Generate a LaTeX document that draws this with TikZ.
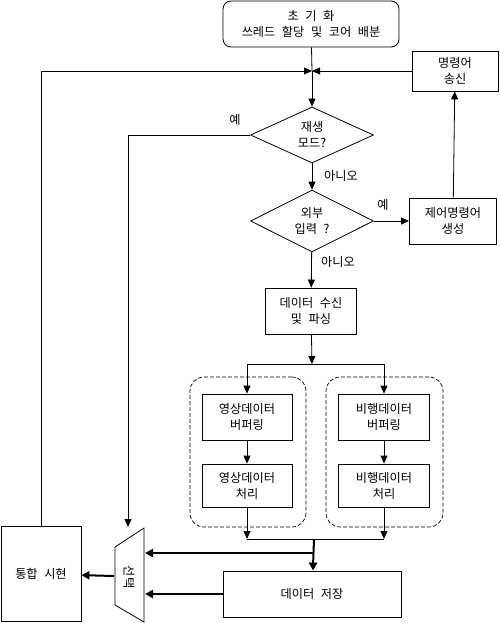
\documentclass[tikz,border=0pt]{standalone}
\usepackage{fontspec}
\setmainfont[WordSpace=2.4]{Noto Sans CJK KR}
\usepackage{tikz}
\usetikzlibrary{shapes.geometric,arrows.meta}

\tikzset{
  box/.style={draw,rectangle,align=center,inner sep=0pt,line width=0.8pt},
  ask/.style={draw,diamond,align=center,inner sep=0pt,line width=0.8pt,minimum width=123pt,minimum height=56pt},
  grp/.style={draw,dash pattern=on 4pt off 2pt,rounded corners=14pt,inner sep=0pt,line width=0.7pt},
  arr/.style={line width=0.8pt,-{Triangle[length=8pt,width=7pt]}},
  fat/.style={line width=2pt,-{Triangle[length=8pt,width=8pt]}},
  lbl/.style={inner sep=0pt}
}

\begin{document}
\begin{tikzpicture}[x=1pt,y=-1pt,font=\fontsize{12.2}{16}\selectfont]
\useasboundingbox (0,0) rectangle (499,623);

\node [box,rounded corners=8pt,minimum width=176pt,minimum height=46pt] (init) at(311,24){초 기 화\\쓰레드 할당 및 코어 배분};
\node [box,minimum width=86pt,minimum height=40pt] (send) at(455,71){명령어\\송신};
\node [ask] (play) at(312,135){재생\\모드?};
\node [ask] (ext) at(312,221){외부\\입력 ?};
\node [box,minimum width=87pt,minimum height=46pt] (ctrl) at(453,221){제어명령어\\생성};
\node [box,minimum width=91pt,minimum height=46pt] (recv) at(311,311){데이터 수신\\및 파싱};

\node [grp,minimum width=116pt,minimum height=150pt] (vgrp) at(248,452){};
\node [grp,minimum width=117pt,minimum height=150pt] (fgrp) at(384.5,452){};
\node [box,minimum width=90pt,minimum height=46pt] (vbuf) at(247,417){영상데이터\\버퍼링};
\node [box,minimum width=90pt,minimum height=43pt] (vproc) at(247,485.5){영상데이터\\처리};
\node [box,minimum width=91pt,minimum height=46pt] (fbuf) at(384,417){비행데이터\\버퍼링};
\node [box,minimum width=91pt,minimum height=43pt] (fproc) at(384,485.5){비행데이터\\처리};

\node [box,minimum width=178pt,minimum height=46pt] (store) at(312,594){데이터 저장};
\node [box,minimum width=80pt,minimum height=95pt] (show) at(41,574){통합 시현};

\draw [line width=0.8pt] (115,547) -- (144,528) -- (144,622) -- (115,605) -- cycle;
\node [rotate=-90,lbl] (sel) at(129,577){선택};

\coordinate (j) at(312,71);
\coordinate (mtop) at(128,527);
\coordinate (split) at(312,364);
\coordinate (vm) at(247,539);
\coordinate (fm) at(384,539);
\coordinate (merge) at(314,539);
\coordinate (tap) at(314,553);
\coordinate (min1) at(145,553);
\coordinate (min2) at(145,594);
\coordinate (mout) at(114,576);

\node [lbl] (yes1) at(235,120){예};
\node [lbl] (no1) at(341,176){아니오};
\node [lbl] (yes2) at(383,205){예};
\node [lbl] (no2) at(338,262){아니오};

\draw [line width=0.8pt] (init) -- (j);
\draw [arr] (j) -- (play);
\draw [arr] (send) -- (j);
\draw [arr] (show) |- (j);
\draw [arr] (play) -| (mtop);
\draw [arr] (play) -- (ext);
\draw [arr] (ext) -- (ctrl);
\draw [arr] (ctrl) -- (send);
\draw [arr] (ext) -- (recv);
\draw [arr] (recv) -- (split);
\draw [arr] (split) -| (vbuf);
\draw [arr] (split) -| (fbuf);
\draw [arr] (vbuf) -- (vproc);
\draw [arr] (fbuf) -- (fproc);
\draw [arr] (vproc) -- (vm);
\draw [arr] (fproc) -- (fm);
\draw [line width=0.8pt] (vm) -- (fm);
\draw [fat] (merge) -- (store);
\draw [fat] (tap) -- (min1);
\draw [fat] (store) -- (min2);
\draw [fat] (mout) -- (show);
\end{tikzpicture}
\end{document}
